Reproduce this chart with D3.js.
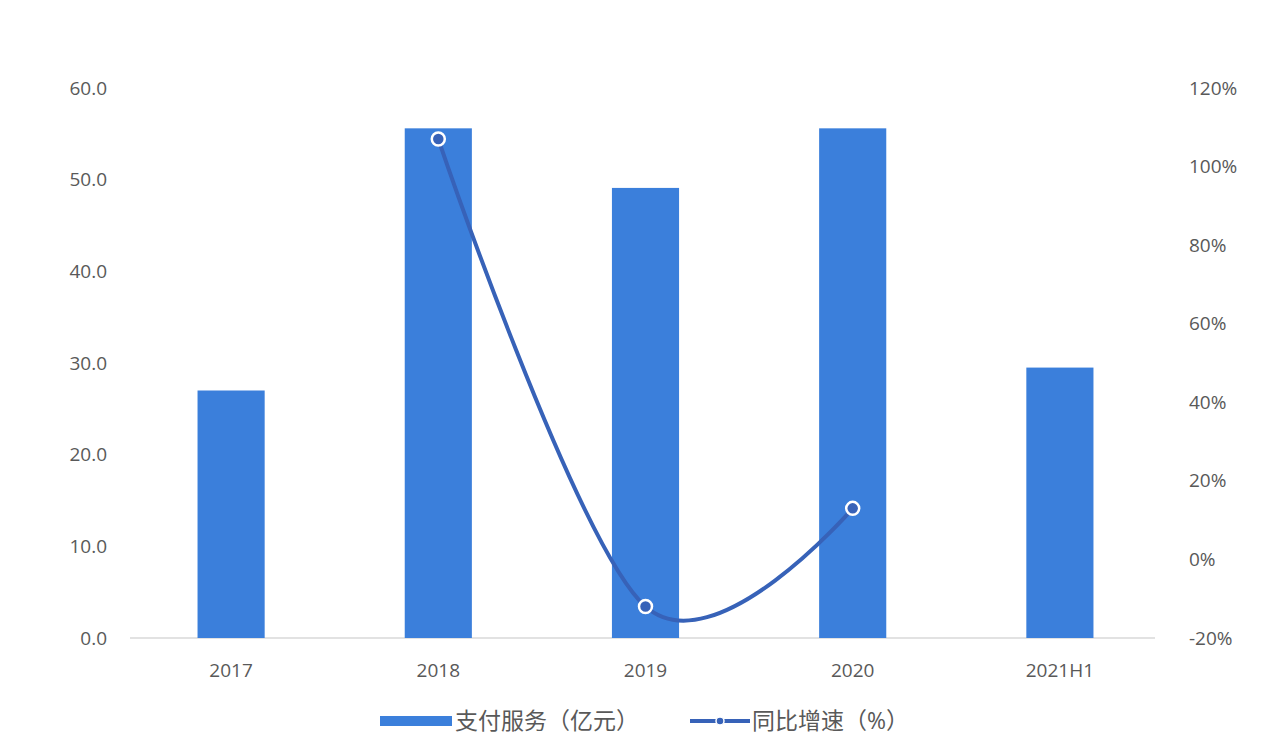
<!DOCTYPE html>
<html>
<head>
<meta charset="utf-8">
<script src="https://cdn.jsdelivr.net/npm/d3@7"></script>
<style>
  body { margin: 0; background: #fff; }
  text { font-family: "Open Sans", "Noto Sans CJK SC", sans-serif; }
</style>
</head>
<body>
<script>
const categories = ['2017', '2018', '2019', '2020', '2021H1']
const payment = [27.0, 55.6, 49.1, 55.6, 29.5]      // 支付服务（亿元）
const growth = [null, 107, -12, 13, null]            // 同比增速（%）
const leftTicks = [0, 10, 20, 30, 40, 50, 60]
const rightTicks = [-20, 0, 20, 40, 60, 80, 100, 120]

const width = 1280
const height = 742
const barColor = '#3b7fdb'
const lineColor = '#3762b8'
const labelColor = '#595959'

const svg = d3.select('body').append('svg')
  .attr('width', width)
  .attr('height', height)

const x = d3.scaleBand()
  .domain(categories)
  .range([127.5, 1163.5])
  .paddingInner(0.676)
  .paddingOuter(0.338)

const yLeft = d3.scaleLinear().domain([0, 60]).range([638, 88])
const yRight = d3.scaleLinear().domain([-20, 120]).range([638, 88])

// baseline
svg.append('line')
  .attr('x1', 130).attr('x2', 1155)
  .attr('y1', yLeft(0)).attr('y2', yLeft(0))
  .attr('stroke', '#d9d9d9')
  .attr('stroke-width', 1.5)

// left axis
svg.append('g')
  .attr('transform', 'translate(110,0)')
  .call(d3.axisLeft(yLeft).tickValues(leftTicks).tickFormat(d3.format('.1f')).tickSize(0))
  .call(g => g.select('.domain').remove())
  .call(g => g.selectAll('text').attr('fill', labelColor).attr('font-size', 19))

// right axis
svg.append('g')
  .attr('transform', 'translate(1186,0)')
  .call(d3.axisRight(yRight).tickValues(rightTicks).tickFormat(d => d + '%').tickSize(0))
  .call(g => g.select('.domain').remove())
  .call(g => g.selectAll('text').attr('fill', labelColor).attr('font-size', 19))

// x axis
svg.append('g')
  .attr('transform', 'translate(0,660)')
  .call(d3.axisBottom(x).tickSize(0))
  .call(g => g.select('.domain').remove())
  .call(g => g.selectAll('text').attr('fill', labelColor).attr('font-size', 19))

// bars
svg.selectAll('rect.bar')
  .data(payment)
  .enter()
  .append('rect')
  .classed('bar', true)
  .attr('x', (d, i) => x(categories[i]))
  .attr('width', x.bandwidth())
  .attr('y', d => yLeft(d))
  .attr('height', d => yLeft(0) - yLeft(d))
  .attr('fill', barColor)

// growth line
const pts = growth
  .map((d, i) => [x(categories[i]) + x.bandwidth() / 2, d])
  .filter(p => p[1] !== null)

svg.append('path')
  .datum(pts)
  .attr('fill', 'none')
  .attr('stroke', lineColor)
  .attr('stroke-width', 4)
  .attr('d', d3.line().x(p => p[0]).y(p => yRight(p[1])).curve(d3.curveCardinal.tension(0)))

svg.selectAll('circle.pt')
  .data(pts)
  .enter()
  .append('circle')
  .classed('pt', true)
  .attr('cx', p => p[0])
  .attr('cy', p => yRight(p[1]))
  .attr('r', 6.5)
  .attr('fill', lineColor)
  .attr('stroke', '#fff')
  .attr('stroke-width', 2.5)

// legend
const legend = svg.append('g').attr('transform', 'translate(0,721)')
legend.append('rect')
  .attr('x', 380).attr('y', -5).attr('width', 72).attr('height', 10)
  .attr('fill', barColor)
legend.append('text')
  .attr('x', 455).attr('y', 8)
  .attr('font-size', 23).attr('fill', labelColor)
  .text('支付服务（亿元）')
legend.append('line')
  .attr('x1', 690).attr('x2', 750).attr('y1', 0).attr('y2', 0)
  .attr('stroke', lineColor).attr('stroke-width', 4)
legend.append('circle')
  .attr('cx', 720).attr('cy', 0).attr('r', 4)
  .attr('fill', lineColor).attr('stroke', '#fff').attr('stroke-width', 1.5)
legend.append('text')
  .attr('x', 752).attr('y', 8)
  .attr('font-size', 23).attr('fill', labelColor)
  .text('同比增速（%）')
</script>
</body>
</html>
